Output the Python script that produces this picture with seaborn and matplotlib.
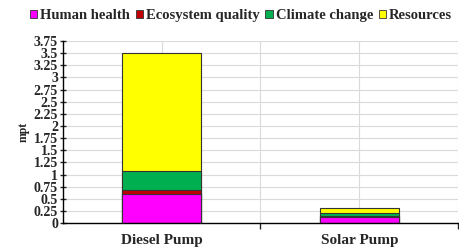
import matplotlib
matplotlib.use("Agg")
import matplotlib.pyplot as plt
import matplotlib.ticker as mticker
from matplotlib.patches import Patch
import numpy as np
import pandas as pd
import seaborn as sns

# impact scores (mPt) per damage category
pumps = ["Diesel Pump", "Solar Pump"]
categories = ["Human health", "Ecosystem quality", "Climate change", "Resources"]
human_health = [0.60, 0.12]
ecosystem_quality = [0.08, 0.02]
climate_change = [0.40, 0.08]
resources = [2.42, 0.10]
colors = ["#FF00FF", "#C00000", "#00B050", "#FFFF00"]

series = [human_health, ecosystem_quality, climate_change, resources]
df = pd.DataFrame({"pump": pumps})
cum = np.zeros(len(pumps))
for name, vals in zip(categories, series):
    cum = cum + np.array(vals)
    df[name] = cum

sns.set_style("white")
plt.rcParams["font.family"] = ["Liberation Serif", "DejaVu Serif"]
plt.rcParams["font.weight"] = "bold"

fig = plt.figure(figsize=(4.59, 2.48), dpi=100)
ax = fig.add_axes([0.137, 0.10, 0.861, 0.735])

# draw cumulative totals from the top down so each segment shows
for name, col in reversed(list(zip(categories, colors))):
    sns.barplot(data=df, x="pump", y=name, color=col, width=0.4,
                edgecolor="#333333", linewidth=0.8, saturation=1, ax=ax)

ax.set_xlim(-0.5, 1.5)
ax.set_ylim(0, 3.75)
ax.yaxis.set_major_locator(mticker.MultipleLocator(0.25))
ax.yaxis.set_major_formatter(mticker.FuncFormatter(lambda v, p: f"{v:g}"))
ax.xaxis.set_minor_locator(mticker.FixedLocator([0.5, 1.5]))
ax.grid(True, which="both", color="#dadada", linewidth=0.8)
ax.set_axisbelow(True)

for s in ["top", "right"]:
    ax.spines[s].set_visible(False)
for s in ["left", "bottom"]:
    ax.spines[s].set_color("black")
    ax.spines[s].set_linewidth(1.0)

ax.tick_params(axis="y", which="major", direction="inout", length=5, width=1,
               labelsize=10, pad=1, left=True)
ax.tick_params(axis="x", which="major", length=0, labelsize=11, pad=8)
ax.tick_params(axis="x", which="minor", direction="out", length=4, width=1, bottom=True)
for lab in ax.get_xticklabels() + ax.get_yticklabels():
    lab.set_fontweight("bold")

ax.set_xlabel("")
ax.set_ylabel("mpt", fontsize=8.5, fontweight="bold", labelpad=3)

handles = [Patch(facecolor=c, edgecolor="#333333", linewidth=0.6) for c in colors]
fig.legend(handles, categories, loc="upper center", bbox_to_anchor=(0.525, 1.015),
           ncol=4, frameon=False, handlelength=0.5, handleheight=0.5,
           handletextpad=0.2, columnspacing=0.4,
           prop={"weight": "bold", "size": 10.5})

fig.savefig("out.png", dpi=100)
